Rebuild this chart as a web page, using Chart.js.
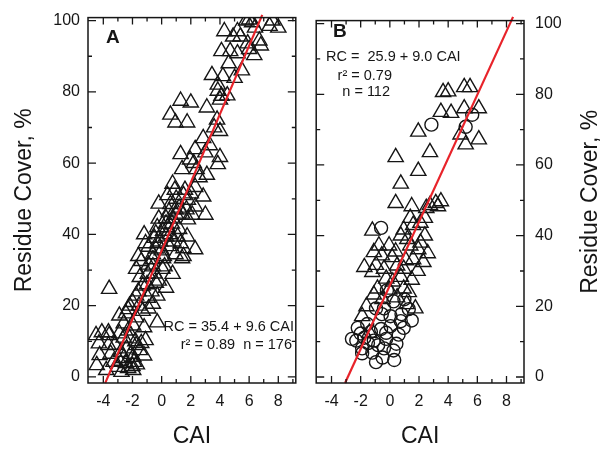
<!DOCTYPE html>
<html><head><meta charset="utf-8">
<script src="https://cdn.jsdelivr.net/npm/chart.js@4.4.1/dist/chart.umd.min.js"></script>
<style>
html,body{margin:0;padding:0;background:#fff;}
#wrap{position:relative;width:606px;height:450px;background:#fff;}
#cA{position:absolute;left:0;top:0;}
#cB{position:absolute;left:306px;top:0;}
</style></head><body>
<div id="wrap"><canvas id="cA" width="306" height="450"></canvas><canvas id="cB" width="300" height="450"></canvas></div>
<script>
// ---------- axes ----------
const xMin = -5.05, xMax = 9.2;
const yMin = -1.7, yMax = 100.85;
const xTicks = [-4, -2, 0, 2, 4, 6, 8];
const xMinorTicks = [-5, -3, -1, 1, 3, 5, 7, 9];
const yTicks = [0, 20, 40, 60, 80, 100];
const yMinorTicks = [10, 30, 50, 70, 90];

// ---------- panel A (triangles) ----------
const aX = [5.8,6.0,6.2,7.6,8.0,7.4,4.3,5.2,4.9,5.9,6.7,6.8,4.1,4.7,5.2,6.35,3.45,4.2,5.0,3.85,3.85,4.1,4.0,1.3,2.0,3.1,0.6,0.95,1.75,3.8,4.0,2.85,
 2.3,1.3,3.0,4.0,3.85,1.95,1.4,2.4,3.1,0.75,1.6,2.3,2.85,-0.2,1.8,2.3,0.5,0.95,1.4,2.1,3.0,-0.2,0.3,0.75,1.8,-1.2,-0.4,0.3,1.1,1.75,-1.1,-0.3,0.5,1.5,2.3,-1.6,-0.6,0.15,0.95,1.5,
 -1.4,-0.6,0.1,1.4,-3.6,-1.75,-0.95,0.05,0.75,-1.3,-0.4,0.3,-1.75,-0.95,-0.3,-2.2,-1.55,-0.9,-2.9,-2.45,-1.75,-1.2,-1.95,-2.6,-4.1,-3.6,-2.9,-2.2,-1.1,-4.3,-3.65,-1.75,-4.25,-3.3,-2.6,-1.95,-3.0,-2.3,-3.8,-2.75,-1.95,-4.45,-1.9,-2.45,-0.3,-4.5,-3.65,
 -2.4,-2.1,-1.8,-2.6,-2.3,-1.5,-2.8,-3.2,-3.5,-2.0,-1.7,-2.9,-1.4,-1.2,
 -2.3,-2.0,-1.6,-1.3,-1.0,-0.7,-0.5,-0.2,-1.5,-0.6,0.2,-0.9,
 -0.4,-0.1,0.1,0.4,-0.5,0.6,0.8,-0.3,0.0,0.3,0.7,1.0,1.2,-0.6,-0.9,1.3,
 0.6,1.0,1.2,0.9,1.5,2.0,1.7,0.4,
 2.2,2.6,3.3,3.6,4.5,5.5,6.0,4.6,5.4,6.4];
const aY = [100,100.3,99.5,100,98,98.5,97,97,95.5,93.6,94.4,93,91.4,91.4,90.8,90.3,84.7,84.4,83.9,82,80.3,78.9,77.8,77.5,77,75.6,73.6,71.4,71.4,72.2,69,67,
 63.9,62.5,63,61.7,59.7,61,58.3,58.3,56.7,54.2,52.5,53.3,50.6,48.6,49.7,47.8,46.4,47,45.8,45.5,45.5,44.4,43,44.4,44.2,40,40.3,39.4,39.4,39.4,37.5,37.5,36.7,36.1,35.8,33.9,34.4,33.9,34.4,33.9,
 32.5,33,33.3,33.3,24.7,30.3,28.9,30.3,28.9,25.6,26.4,25,22.8,22.2,22.8,20,20,19.2,17.2,17.8,16.7,13.9,14.4,15,12.5,11.7,12.2,10.8,10.3,9.4,8.9,8.9,6.1,4.2,5.3,5.6,2.8,2.5,1.9,1.4,1.9,3.3,4.2,3.9,15.3,11.7,12.5,
 8,6.5,10,11,13,7.5,7,9,6.5,3.0,3.5,4.5,9.5,6,
 19,21,24,18.5,26,24,29,27,28,20.5,31,31.5,
 36,38,41,42,39,40,38,42,35.5,44.5,43,45.5,41.5,31,36.5,37.5,
 48.5,50,47.5,52.5,51,51.5,47,51,
 60,56,65,70,79,86,92,88,95.5,98];
const lineAX = [-3.87, 6.9];
const lineAY = [-1.75, 101.6];

// ---------- panel B (triangles + circles) ----------
const bTriX = [3.65,4.0,5.1,5.5,3.5,4.2,5.1,6.1,1.95,4.85,5.2,6.1,0.4,2.75,1.95,0.75,0.4,1.5,3.15,3.5,2.5,
 -1.2,0.95,1.6,2.1,2.4,-0.75,-0.05,-1.1,-0.55,1.4,1.95,0.15,-1.75,-0.95,-0.4,1.1,1.6,2.3,0.95,-0.25,0.75,1.5,-0.85,-0.05,0.95,-1.1,1.75,1.15,-1.9,-1.2,2.75,3.3,2.4,1.4,0.75,2.1,-1.4,
 0.4,1.2,0.5,1.9,0.2,-0.5,0.5,1.3,2.6,-1.6];
const bTriY = [80.6,80.8,82,82,75,74.7,76,76,69.4,68.6,65.8,67.2,62.2,63.6,58.3,54.7,49.2,48.3,49.2,49.7,47.8,
 41.4,41.7,43,43.6,40,37.2,37.2,35.3,34.4,37.2,36.1,33.9,31.1,31.7,30.6,33,33.3,32.5,30.6,27.8,28.3,27.5,25,24.7,25,23.3,19.4,20.6,17.2,29.7,48.6,48.3,45,45,40,38,12.5,
 35.5,39,31.5,30,27,22,22.5,24,35,20];
const bCirX = [2.85,5.65,5.2,-0.6,0.25,-0.95,-0.4,0.8,1.3,0.75,0.95,-2.2,-1.55,-0.6,0.05,-2.6,-2.3,-1.75,-1.1,-0.25,0.45,-1.9,-1.2,-0.4,0.25,-0.95,-1.9,-0.25,0.05,-0.55,
 -2.0,-1.3,-0.8,0.6,0.3,-0.5,-1.5,1.0,-0.2,1.5];
const bCirY = [71.4,74.2,70.8,42.2,21.4,19.4,19.4,17.8,19.2,15.8,13.9,13.9,15,13.6,14.4,10.8,10.3,11.1,10.3,10.8,9.4,8.1,6.9,8.1,7.5,4.2,6.7,12.5,17.2,17.8,
 12.3,12.8,9,12,4.8,5.5,9.6,22,24.5,16];
const lineBX = [-3.07, 8.45];
const lineBY = [-1.7, 101.9];

// ---------- helpers ----------
const FONT = '"Liberation Sans", Arial, Helvetica, sans-serif';
const INK = '#161616';
const RED = '#e8232a';
const pts = (xs, ys) => xs.map((x, i) => ({x, y: ys[i]}));

function frameTicks(chart) {
  const {ctx, chartArea: ca, scales: {x, y}} = chart;
  ctx.save();
  ctx.strokeStyle = INK;
  ctx.lineWidth = 1.5;
  ctx.strokeRect(ca.left, ca.top, ca.right - ca.left, ca.bottom - ca.top);
  ctx.lineWidth = 1.3;
  ctx.beginPath();
  const xt = (v, len) => {
    const p = x.getPixelForValue(v);
    if (p <= ca.left + 1 || p >= ca.right - 1) return;
    ctx.moveTo(p, ca.bottom); ctx.lineTo(p, ca.bottom - len);
    ctx.moveTo(p, ca.top); ctx.lineTo(p, ca.top + len);
  };
  const yt = (v, len) => {
    const p = y.getPixelForValue(v);
    ctx.moveTo(ca.left, p); ctx.lineTo(ca.left + len, p);
    ctx.moveTo(ca.right, p); ctx.lineTo(ca.right - len, p);
  };
  xTicks.forEach(v => xt(v, 7));
  xMinorTicks.forEach(v => xt(v, 4));
  yTicks.forEach(v => yt(v, 8));
  yMinorTicks.forEach(v => yt(v, 4));
  ctx.stroke();
  ctx.restore();
}

const tickFont = {family: FONT, size: 16};
function baseOptions(yPos, pad) {
  return {
    responsive: false, animation: false, devicePixelRatio: 1,
    layout: {padding: pad},
    plugins: {legend: {display: false}, tooltip: {enabled: false}},
    scales: {
      x: {
        type: 'linear', position: 'bottom', min: xMin, max: xMax,
        afterBuildTicks: s => { s.ticks = xTicks.map(v => ({value: v})); },
        afterFit: s => { s.height = 67; },
        grid: {display: false, drawTicks: false},
        border: {display: false},
        ticks: {font: tickFont, color: INK, padding: 9, maxRotation: 0, autoSkip: false},
        title: {display: true, text: 'CAI', font: {family: FONT, size: 23}, color: INK, padding: {top: 0, bottom: 0}}
      },
      y: {
        type: 'linear', position: yPos, min: yMin, max: yMax,
        afterBuildTicks: s => { s.ticks = yTicks.map(v => ({value: v})); },
        afterFit: s => { s.width = yPos === 'left' ? 88 : 82; },
        grid: {display: false, drawTicks: false},
        border: {display: false},
        ticks: {display: true, font: tickFont, color: INK, padding: yPos === 'left' ? 8 : 11, autoSkip: false,
                callback: v => v},
        title: {display: yPos === 'left', text: 'Residue Cover, %', font: {family: FONT, size: 23}, color: INK, padding: {top: 11, bottom: 0}}
      }
    }
  };
}

const TRI_R = 8.8, CIR_R = 6.5, MK_W = 1.4;

// ---------- chart A ----------
const optA = baseOptions('left', {top: 14, right: 5, left: 0, bottom: 0});
new Chart(document.getElementById('cA'), {
  type: 'scatter',
  data: {datasets: [
    {type: 'line', data: pts(lineAX, lineAY), borderColor: RED, borderWidth: 2.2, pointRadius: 0, showLine: true, fill: false, order: 0, clip: false},
    {data: pts(aX, aY), pointStyle: 'triangle', pointRadius: TRI_R, borderColor: INK, borderWidth: MK_W, backgroundColor: 'rgba(0,0,0,0)', order: 1}
  ]},
  options: optA,
  plugins: [{
    id: 'decoA',
    afterDatasetsDraw(chart) {
      frameTicks(chart);
      const ctx = chart.ctx;
      ctx.save();
      ctx.fillStyle = INK;
      ctx.font = 'bold 19px ' + FONT;
      ctx.textBaseline = 'middle';
      ctx.textAlign = 'left';
      ctx.fillText('A', 106, 38);
      ctx.font = '14.5px ' + FONT;
      ctx.textAlign = 'right';
      ctx.fillText('RC = 35.4 + 9.6 CAI', 294, 327);
      ctx.fillText('r\u00B2 = 0.89  n = 176', 292, 345);
      ctx.restore();
    }
  }]
});

// ---------- chart B ----------
const optB = baseOptions('right', {top: 14, right: 0, left: 7, bottom: 0});
new Chart(document.getElementById('cB'), {
  type: 'scatter',
  data: {datasets: [
    {type: 'line', data: pts(lineBX, lineBY), borderColor: RED, borderWidth: 2.2, pointRadius: 0, showLine: true, fill: false, order: 0, clip: false},
    {data: pts(bCirX, bCirY), pointStyle: 'circle', pointRadius: CIR_R, borderColor: INK, borderWidth: MK_W, backgroundColor: 'rgba(0,0,0,0)', order: 2},
    {data: pts(bTriX, bTriY), pointStyle: 'triangle', pointRadius: TRI_R, borderColor: INK, borderWidth: MK_W, backgroundColor: 'rgba(0,0,0,0)', order: 1}
  ]},
  options: optB,
  plugins: [{
    id: 'decoB',
    afterDatasetsDraw(chart) {
      frameTicks(chart);
      const ctx = chart.ctx;
      const ca = chart.chartArea;
      ctx.save();
      ctx.fillStyle = INK;
      ctx.font = 'bold 19px ' + FONT;
      ctx.textBaseline = 'middle';
      ctx.textAlign = 'left';
      ctx.fillText('B', 27, 32);
      ctx.font = '14.5px ' + FONT;
      ctx.fillText('RC =  25.9 + 9.0 CAI', 20, 57);
      ctx.textAlign = 'right';
      ctx.fillText('r\u00B2 = 0.79', 86, 76);
      ctx.fillText('n = 112', 84, 92);
      // right-side axis title
      ctx.translate(285, (ca.top + ca.bottom) / 2);
      ctx.rotate(-Math.PI / 2);
      ctx.textAlign = 'center';
      ctx.font = '23px ' + FONT;
      ctx.fillText('Residue Cover, %', 0, 0);
      ctx.restore();
    }
  }]
});
</script>
</body></html>
